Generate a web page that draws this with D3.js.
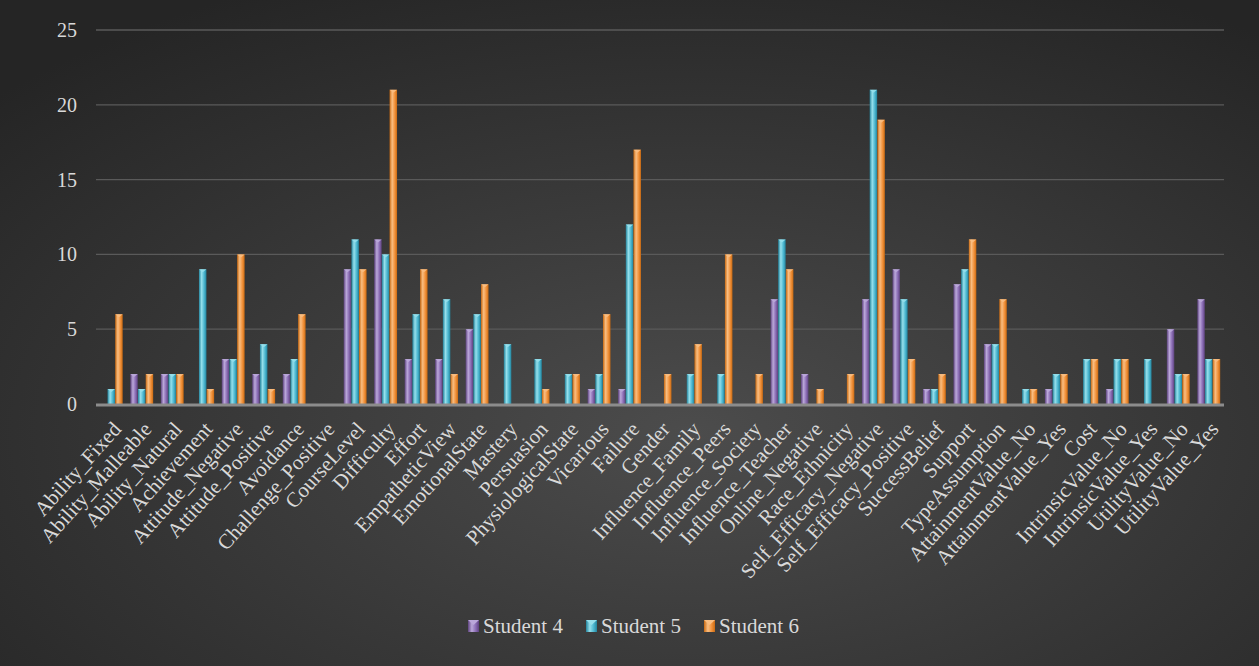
<!DOCTYPE html>
<html>
<head>
<meta charset="utf-8">
<script src="https://cdn.jsdelivr.net/npm/d3@7"></script>
<style>
  body { margin: 0; background: #333; }
  svg { display: block; }
</style>
</head>
<body>
<div id="chart"></div>
<script>
var w = 1259;
var h = 666;

var categories = ["Ability_Fixed", "Ability_Malleable", "Ability_Natural", "Achievement",
  "Attitude_Negative", "Attitude_Positive", "Avoidance", "Challenge_Positive", "CourseLevel",
  "Difficulty", "Effort", "EmpatheticView", "EmotionalState", "Mastery", "Persuasion",
  "PhysiologicalState", "Vicarious", "Failure", "Gender", "Influence_Family", "Influence_Peers",
  "Influence_Society", "Influence_Teacher", "Online_Negative", "Race_Ethnicity",
  "Self_Efficacy_Negative", "Self_Efficacy_Positive", "SuccessBelief", "Support",
  "TypeAssumption", "AttainmentValue_No", "AttainmentValue_Yes", "Cost", "IntrinsicValue_No",
  "IntrinsicValue_Yes", "UtilityValue_No", "UtilityValue_Yes"];

var seriesNames = ["Student 4", "Student 5", "Student 6"];

var student4 = [0, 2, 2, 0, 3, 2, 2, 0, 9, 11, 3, 3, 5, 0, 0, 0, 1, 1, 0, 0, 0, 0, 7, 2, 0, 7, 9, 1, 8, 4, 0, 1, 0, 1, 0, 5, 7];
var student5 = [1, 1, 2, 9, 3, 4, 3, 0, 11, 10, 6, 7, 6, 4, 3, 2, 2, 12, 0, 2, 2, 0, 11, 0, 0, 21, 7, 1, 9, 4, 1, 2, 3, 3, 3, 2, 3];
var student6 = [6, 2, 2, 1, 10, 1, 6, 0, 9, 21, 9, 2, 8, 0, 1, 2, 6, 17, 2, 4, 10, 2, 9, 1, 2, 19, 3, 2, 11, 7, 1, 2, 3, 3, 0, 2, 3];

var yTicks = [0, 5, 10, 15, 20, 25];

var seriesData = [student4, student5, student6];
var colors = [
  { light: "#bba8da", mid: "#8a6cb4", dark: "#5e437f" },
  { light: "#96e0ec", mid: "#4bb6cf", dark: "#23849d" },
  { light: "#f9be82", mid: "#f1913a", dark: "#c96a12" }
];

var serif = "'Liberation Serif', 'Times New Roman', serif";

var margin = { left: 96, right: 35, top: 30, bottom: 262 };
var plotW = w - margin.left - margin.right;
var plotH = h - margin.top - margin.bottom;

var svg = d3.select("#chart")
  .append("svg")
  .attr("width", w)
  .attr("height", h);

var defs = svg.append("defs");

var bg = defs.append("radialGradient")
  .attr("id", "bg")
  .attr("cx", "55%").attr("cy", "65%").attr("r", "75%");
bg.append("stop").attr("offset", "0%").attr("stop-color", "#4c4c4c");
bg.append("stop").attr("offset", "100%").attr("stop-color", "#252525");

colors.forEach(function(c, i) {
  var g = defs.append("linearGradient")
    .attr("id", "bar" + i)
    .attr("x1", "0%").attr("x2", "100%").attr("y1", "0%").attr("y2", "0%");
  g.append("stop").attr("offset", "0%").attr("stop-color", c.dark);
  g.append("stop").attr("offset", "35%").attr("stop-color", c.light);
  g.append("stop").attr("offset", "70%").attr("stop-color", c.mid);
  g.append("stop").attr("offset", "100%").attr("stop-color", c.dark);
});

svg.append("rect")
  .attr("width", w)
  .attr("height", h)
  .attr("fill", "url(#bg)");

var x0 = d3.scaleBand()
  .domain(categories)
  .range([margin.left, margin.left + plotW])
  .paddingInner(0.25)
  .paddingOuter(0.125);

var x1 = d3.scaleBand()
  .domain(d3.range(seriesNames.length))
  .range([0, x0.bandwidth()])
  .paddingInner(0.03);

var y = d3.scaleLinear()
  .domain([0, 25])
  .range([margin.top + plotH, margin.top]);

// gridlines
svg.append("g")
  .selectAll("line")
  .data(yTicks.filter(function(d) { return d > 0; }))
  .enter()
  .append("line")
  .attr("x1", margin.left)
  .attr("x2", margin.left + plotW)
  .attr("y1", function(d) { return y(d); })
  .attr("y2", function(d) { return y(d); })
  .attr("stroke", "#5a5a5a")
  .attr("stroke-width", 1.3);

// y labels
svg.append("g")
  .selectAll("text")
  .data(yTicks)
  .enter()
  .append("text")
  .attr("x", 77)
  .attr("y", function(d) { return y(d); })
  .attr("dy", "0.35em")
  .attr("text-anchor", "end")
  .attr("fill", "#d9d9d9")
  .style("font-family", serif)
  .style("font-size", "20px")
  .text(function(d) { return d; });

// bars
var groups = svg.append("g")
  .selectAll("g")
  .data(categories)
  .enter()
  .append("g")
  .attr("transform", function(d) { return "translate(" + x0(d) + ",0)"; });

groups.selectAll("rect")
  .data(function(d, i) {
    return seriesData.map(function(s, k) { return { k: k, v: s[i] }; });
  })
  .enter()
  .filter(function(d) { return d.v > 0; })
  .append("rect")
  .attr("x", function(d) { return x1(d.k); })
  .attr("width", x1.bandwidth())
  .attr("y", function(d) { return y(d.v); })
  .attr("height", function(d) { return y(0) - y(d.v); })
  .attr("fill", function(d) { return "url(#bar" + d.k + ")"; });

// little bevel on top of bars
groups.selectAll("path")
  .data(function(d, i) {
    return seriesData.map(function(s, k) { return { k: k, v: s[i] }; });
  })
  .enter()
  .filter(function(d) { return d.v > 0; })
  .append("path")
  .attr("d", function(d) {
    var bx = x1(d.k), bw = x1.bandwidth(), by = y(d.v);
    return "M" + bx + "," + by + "L" + (bx + bw) + "," + by + "L" + (bx + bw / 2) + "," + (by + 3) + "Z";
  })
  .attr("fill", function(d) { return colors[d.k].light; })
  .attr("opacity", 0.9);

// baseline
svg.append("line")
  .attr("x1", margin.left)
  .attr("x2", margin.left + plotW)
  .attr("y1", y(0) + 1)
  .attr("y2", y(0) + 1)
  .attr("stroke", "#8c8c8c")
  .attr("stroke-width", 3);

// category labels
svg.append("g")
  .selectAll("text")
  .data(categories)
  .enter()
  .append("text")
  .attr("transform", function(d) {
    var cx = x0(d) + x0.bandwidth() / 2 + 11;
    return "translate(" + cx + "," + (y(0) + 26) + ") rotate(-48)";
  })
  .attr("text-anchor", "end")
  .attr("fill", "#d9d9d9")
  .style("font-family", serif)
  .style("font-size", "21px")
  .text(function(d) { return d; });

// legend
var legendItems = seriesNames.map(function(n, i) { return { name: n, k: i }; });
var itemW = 118;
var legend = svg.append("g").attr("transform", "translate(468,626)");
legendItems.forEach(function(d, i) {
  var item = legend.append("g").attr("transform", "translate(" + (i * itemW) + ",0)");
  item.append("rect")
    .attr("x", 0).attr("y", -6)
    .attr("width", 11).attr("height", 12)
    .attr("fill", "url(#bar" + d.k + ")");
  item.append("path")
    .attr("d", "M0,-6L11,-6L5.5,-1Z")
    .attr("fill", colors[d.k].light);
  item.append("text")
    .attr("x", 15)
    .attr("y", 0)
    .attr("dy", "0.35em")
    .attr("fill", "#d9d9d9")
    .style("font-family", serif)
    .style("font-size", "21px")
    .text(d.name);
});
</script>
</body>
</html>
